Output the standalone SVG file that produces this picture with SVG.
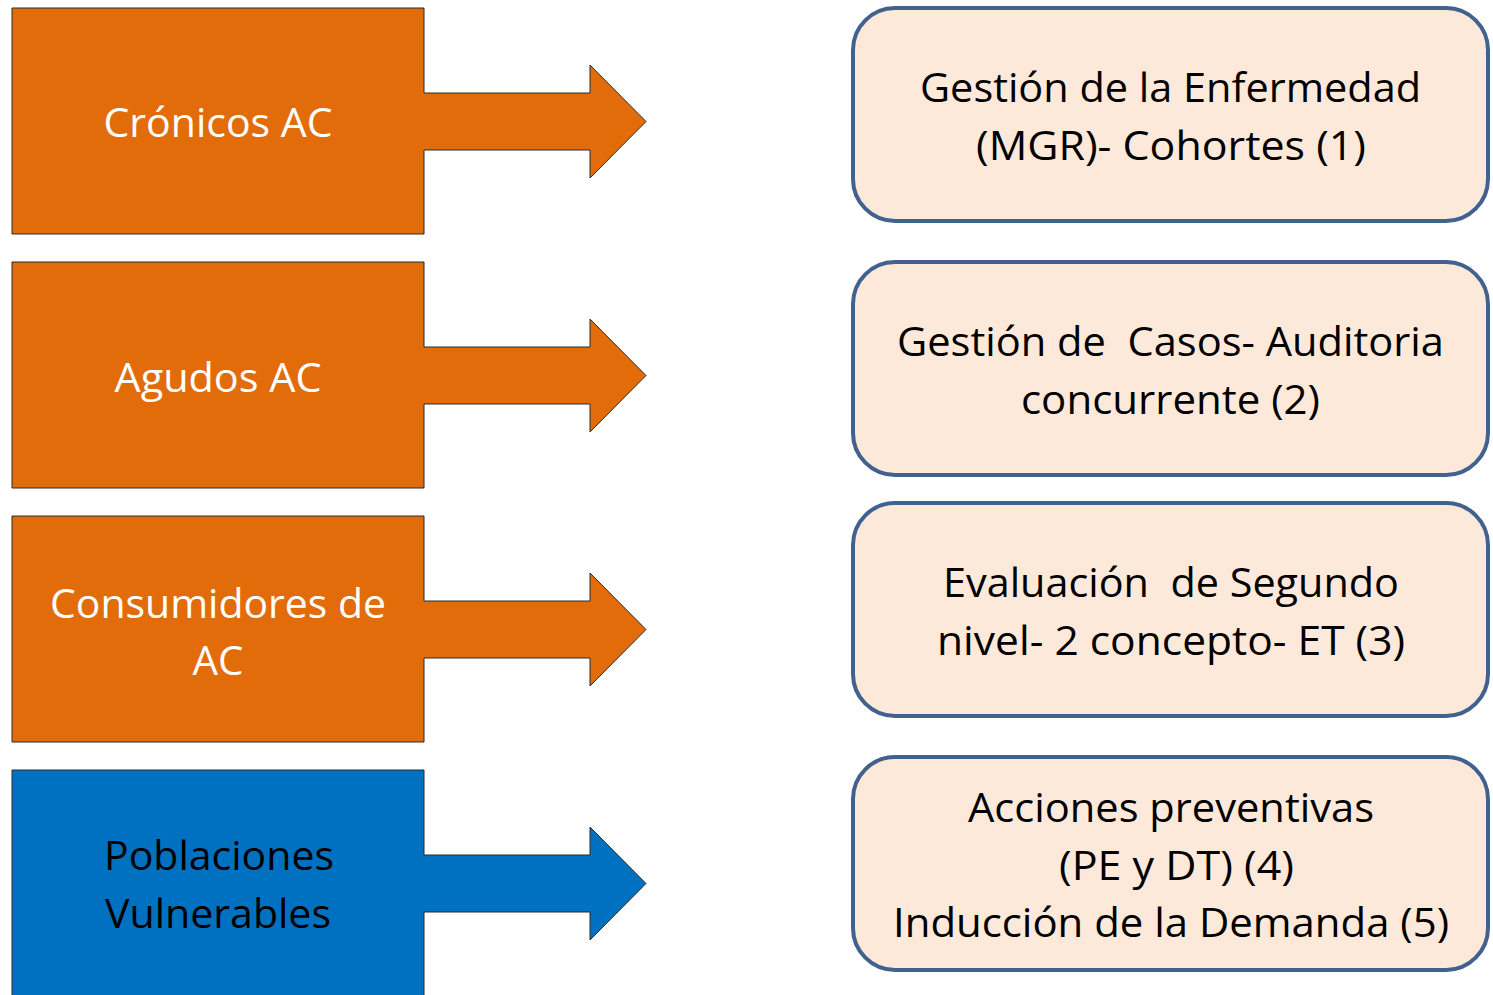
<svg xmlns="http://www.w3.org/2000/svg" width="1493" height="995" viewBox="0 0 1493 995">
<defs>
<style>
.orange{fill:#E36C0A;stroke:#2b2b2b;stroke-width:1}
.blue{fill:#0070C0;stroke:#2b2b2b;stroke-width:1}
.box{fill:#FDE9D9;stroke:#41618E;stroke-width:4}
text{font-family:"Open Sans","Noto Sans","Liberation Sans",sans-serif;font-size:41px;text-anchor:middle}
.w{fill:#FFFFFF}
.k{fill:#000000}
</style>
</defs>
<rect width="1493" height="995" fill="#FFFFFF"/>
<g id="cronicos">
<path class="orange" d="M12,8 H424 V93 H590 V65 L646,121.5 L590,178 V150 H424 V234 H12 Z"/>
<text class="w" x="218" y="137" textLength="229" lengthAdjust="spacingAndGlyphs">Crónicos AC</text>
</g>
<g id="agudos">
<path class="orange" d="M12,262 H424 V347 H590 V319 L646,375.5 L590,432 V404 H424 V488 H12 Z"/>
<text class="w" x="218" y="392" textLength="207" lengthAdjust="spacingAndGlyphs">Agudos AC</text>
</g>
<g id="consumidores">
<path class="orange" d="M12,516 H424 V601 H590 V573 L646,629.5 L590,686 V658 H424 V742 H12 Z"/>
<text class="w" x="218" y="618" textLength="336" lengthAdjust="spacingAndGlyphs">Consumidores de</text>
<text class="w" x="218" y="675" textLength="51" lengthAdjust="spacingAndGlyphs">AC</text>
</g>
<g id="poblaciones">
<path class="blue" d="M12,770 H424 V855 H590 V827 L646,883.5 L590,940 V912 H424 V1000 H12 Z"/>
<text class="k" x="219" y="870" textLength="230" lengthAdjust="spacingAndGlyphs">Poblaciones</text>
<text class="k" x="218" y="928" textLength="226" lengthAdjust="spacingAndGlyphs">Vulnerables</text>
</g>
<g id="connectors"></g>
<g id="gestion-enfermedad">
<rect class="box" x="853" y="8" width="635" height="213" rx="42" ry="42"/>
<text class="k" x="1170.5" y="102" textLength="501" lengthAdjust="spacingAndGlyphs">Gestión de la Enfermedad</text>
<text class="k" x="1171" y="160" textLength="390" lengthAdjust="spacingAndGlyphs">(MGR)- Cohortes (1)</text>
</g>
<g id="gestion-casos">
<rect class="box" x="853" y="262" width="635" height="213" rx="42" ry="42"/>
<text class="k" x="1170.5" y="356" textLength="547" lengthAdjust="spacingAndGlyphs" xml:space="preserve">Gestión de  Casos- Auditoria</text>
<text class="k" x="1170.5" y="414" textLength="299" lengthAdjust="spacingAndGlyphs">concurrente (2)</text>
</g>
<g id="evaluacion">
<rect class="box" x="853" y="503" width="635" height="213" rx="42" ry="42"/>
<text class="k" x="1171" y="597" textLength="456" lengthAdjust="spacingAndGlyphs" xml:space="preserve">Evaluación  de Segundo</text>
<text class="k" x="1171" y="655" textLength="468" lengthAdjust="spacingAndGlyphs">nivel- 2 concepto- ET (3)</text>
</g>
<g id="acciones">
<rect class="box" x="853" y="757" width="635" height="213" rx="42" ry="42"/>
<text class="k" x="1171" y="822" textLength="406" lengthAdjust="spacingAndGlyphs">Acciones preventivas</text>
<text class="k" x="1176.5" y="880" textLength="235" lengthAdjust="spacingAndGlyphs">(PE y DT) (4)</text>
<text class="k" x="1171" y="937" textLength="556" lengthAdjust="spacingAndGlyphs">Inducción de la Demanda (5)</text>
</g>
</svg>
